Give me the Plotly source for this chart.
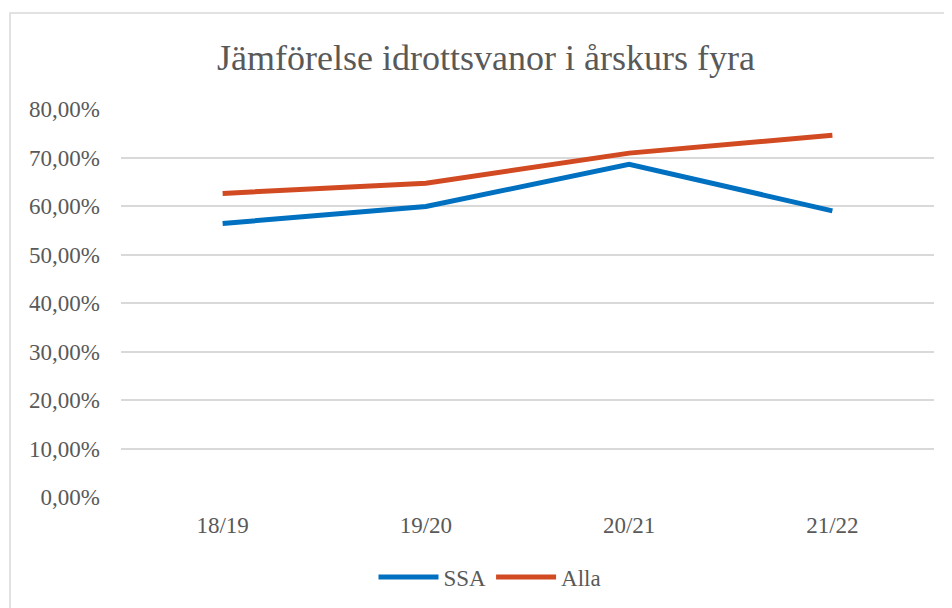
import plotly.graph_objects as go

categories = ["18/19", "19/20", "20/21", "21/22"]
ssa = [0.564, 0.599, 0.686, 0.590]
alla = [0.626, 0.647, 0.709, 0.746]
y_tickvals = [0, 0.1, 0.2, 0.3, 0.4, 0.5, 0.6, 0.7, 0.8]
y_ticktext = ["0,00%", "10,00%", "20,00%", "30,00%", "40,00%", "50,00%", "60,00%", "70,00%", "80,00%"]

OFF = 8  # page body margin
W, H = 952, 608
L, R, T, B = 121 - OFF, 952 - 934 + OFF, 109 - OFF, 608 - 497 + OFF
pw = W - L - R
ph = H - T - B
y0pix = 497 - OFF

font_fam = "Liberation Serif"
grey = "#595959"

fig = go.Figure()
fig.add_trace(go.Scatter(x=categories, y=ssa, name="SSA", mode="lines",
                         line=dict(color="#0070C0", width=5)))
fig.add_trace(go.Scatter(x=categories, y=alla, name="Alla", mode="lines",
                         line=dict(color="#D24A22", width=5)))

fig.update_layout(
    width=W, height=H,
    margin=dict(l=L, r=R, t=T, b=B),
    paper_bgcolor="white", plot_bgcolor="white",
    font=dict(family=font_fam, color=grey, size=23),
    title=dict(text="Jämförelse idrottsvanor i årskurs fyra",
               font=dict(family=font_fam, size=36, color=grey),
               x=((207 + 765) / 2 - OFF) / W, xanchor="center",
               y=1 - (57 - OFF) / H, yanchor="middle"),
    showlegend=True,
    legend=dict(orientation="h", x=(490 - OFF - L) / pw, xanchor="center",
                y=-(577 - 497) / ph, yanchor="middle",
                font=dict(family=font_fam, size=23, color=grey),
                itemwidth=60, tracegroupgap=0),
    xaxis=dict(type="category", range=[-0.5, 3.5], showgrid=False,
               showline=False, zeroline=False, ticks="",
               tickfont=dict(family=font_fam, size=23, color=grey),
               ticklabelstandoff=12),
    yaxis=dict(range=[0, 0.8], tickvals=y_tickvals, ticktext=y_ticktext,
               showgrid=True, gridcolor="#D9D9D9", gridwidth=1.5,
               zeroline=False, showline=False, ticks="",
               tickfont=dict(family=font_fam, size=23, color=grey),
               ticklabelstandoff=20),
)

# outer chart border (left and top visible)
fig.add_shape(type="rect", xref="paper", yref="paper",
              x0=(10 - OFF - L) / pw, x1=(W + 20 - L) / pw,
              y0=-(H + 20 - y0pix) / ph, y1=(y0pix - (13 - OFF)) / ph,
              line=dict(color="#D9D9D9", width=1.5), layer="below")

fig.write_html("out.html")
